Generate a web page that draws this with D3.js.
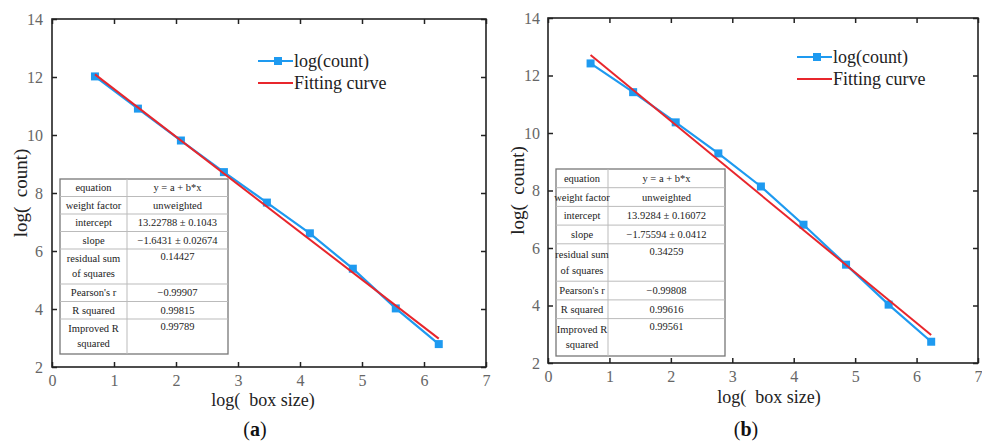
<!DOCTYPE html>
<html>
<head>
<meta charset="utf-8">
<script src="https://cdn.jsdelivr.net/npm/d3@7"></script>
<style>
  body { margin: 0; background: #fff; }
</style>
</head>
<body>
<div id="sandbox"></div>
<script>
const width = 982;
const height = 443;
const serif = "'Liberation Serif', 'Times New Roman', serif";

// log(box size) for box sizes 2,4,8,...,512
const boxLog = [0.693, 1.386, 2.079, 2.773, 3.466, 4.159, 4.852, 5.545, 6.238];

// log(count)
const countA = [12.02, 10.91, 9.81, 8.72, 7.67, 6.61, 5.39, 4.02, 2.79];
const countB = [12.42, 11.42, 10.37, 9.29, 8.14, 6.81, 5.42, 4.03, 2.74];

// fit parameters (intercept a, slope b)
const fitA = [13.22788, -1.6431];
const fitB = [13.9284, -1.75594];

const xTicks = [0, 1, 2, 3, 4, 5, 6, 7];
const yTicks = [2, 4, 6, 8, 10, 12, 14];

// fit statistics table
const tableLabels = [
  ["equation"], ["weight factor"], ["intercept"], ["slope"],
  ["residual sum", "of squares"], ["Pearson's r"], ["R squared"], ["Improved R", "squared"]
];
const tableA = ["y = a + b*x", "unweighted", "13.22788 \u00b1 0.1043", "\u22121.6431 \u00b1 0.02674",
  "0.14427", "\u22120.99907", "0.99815", "0.99789"];
const tableB = ["y = a + b*x", "unweighted", "13.9284 \u00b1 0.16072", "\u22121.75594 \u00b1 0.0412",
  "0.34259", "\u22120.99808", "0.99616", "0.99561"];

const legendLabels = ["log(count)", "Fitting curve"];

const blue = "#1e9af0";
const red = "#e8262c";

const svg = d3.select("#sandbox")
    .append("svg")
    .attr("width", width)
    .attr("height", height)
    .style("font-family", serif);

function drawPanel(p) {
  const x = d3.scaleLinear().domain([0, 7]).range([p.left, p.right]);
  const y = d3.scaleLinear().domain([2, 14]).range([p.bottom, p.top]);
  const g = svg.append("g");

  // axes, ticks pointing inward on all four sides
  const styleAxis = sel => {
    sel.attr("font-family", null);
    sel.select(".domain").remove();
    sel.selectAll(".tick line").attr("stroke", "#222").attr("stroke-width", 1.5);
    sel.selectAll(".tick text").attr("fill", "#666").attr("font-size", 16)
      .style("font-family", serif);
  };
  const fmt = d3.format("d");
  g.append("g").attr("transform", `translate(0,${p.bottom})`)
    .call(d3.axisBottom(x).tickValues(xTicks).tickFormat(fmt).tickSizeInner(-5).tickSizeOuter(0).tickPadding(8))
    .call(styleAxis);
  g.append("g").attr("transform", `translate(0,${p.top})`)
    .call(d3.axisTop(x).tickValues(xTicks).tickSizeInner(-5).tickSizeOuter(0).tickFormat(""))
    .call(styleAxis);
  g.append("g").attr("transform", `translate(${p.left},0)`)
    .call(d3.axisLeft(y).tickValues(yTicks).tickFormat(fmt).tickSizeInner(-5).tickSizeOuter(0).tickPadding(p.yPad))
    .call(styleAxis);
  g.append("g").attr("transform", `translate(${p.right},0)`)
    .call(d3.axisRight(y).tickValues(yTicks).tickSizeInner(-5).tickSizeOuter(0).tickFormat(""))
    .call(styleAxis);

  // frame
  g.append("rect")
    .attr("x", p.left).attr("y", p.top)
    .attr("width", p.right - p.left).attr("height", p.bottom - p.top)
    .attr("fill", "none").attr("stroke", "#222").attr("stroke-width", 1.6);

  // axis titles
  g.append("text")
    .attr("x", p.xTitleX).attr("y", p.xTitleY)
    .attr("text-anchor", "middle").attr("font-size", 18).attr("fill", "#222")
    .style("white-space", "pre")
    .text("log(\u2002box size)");
  g.append("text")
    .attr("transform", `translate(${p.yTitleX},${(p.top + p.bottom) / 2}) rotate(-90)`)
    .attr("text-anchor", "middle").attr("font-size", 19).attr("fill", "#222")
    .style("white-space", "pre")
    .text("log(\u2002count)");

  // data line + markers
  const line = d3.line().x(d => x(d[0])).y(d => y(d[1]));
  const pts = boxLog.map((v, i) => [v, p.counts[i]]);
  g.append("path").datum(pts)
    .attr("d", line).attr("fill", "none")
    .attr("stroke", blue).attr("stroke-width", 2.2);
  g.selectAll(".pt").data(pts).enter().append("rect")
    .attr("x", d => x(d[0]) - 4).attr("y", d => y(d[1]) - 4)
    .attr("width", 8).attr("height", 8).attr("fill", blue);

  // fitted line
  const xs = d3.extent(boxLog);
  g.append("path").datum(xs.map(v => [v, p.fit[0] + p.fit[1] * v]))
    .attr("d", line).attr("fill", "none")
    .attr("stroke", red).attr("stroke-width", 2);

  // legend
  const lg = g.append("g").attr("transform", `translate(${p.legX},${p.legY})`);
  lg.append("line").attr("x1", 0).attr("x2", 35).attr("y1", 0).attr("y2", 0)
    .attr("stroke", blue).attr("stroke-width", 2);
  lg.append("rect").attr("x", 16).attr("y", -4).attr("width", 8).attr("height", 8).attr("fill", blue);
  lg.append("line").attr("x1", 0).attr("x2", 35).attr("y1", 22).attr("y2", 22)
    .attr("stroke", red).attr("stroke-width", 2);
  lg.selectAll(".lt").data(legendLabels).enter().append("text")
    .attr("x", 36).attr("y", (d, i) => i * 22).attr("dy", "0.32em")
    .attr("font-size", 18).attr("fill", "#222").text(d => d);

  // stats table
  const t = p.table;
  const units = tableLabels.map(l => l.length);
  const unitH = (t.bottom - t.top) / d3.sum(units);
  const tg = g.append("g").style("font-family", serif);
  tg.append("rect").attr("x", t.left).attr("y", t.top)
    .attr("width", t.right - t.left).attr("height", t.bottom - t.top)
    .attr("fill", "#fff").attr("stroke", "#777").attr("stroke-width", 1.3);
  tg.append("line").attr("x1", t.mid).attr("x2", t.mid).attr("y1", t.top).attr("y2", t.bottom)
    .attr("stroke", "#bbb");
  let yy = t.top;
  tableLabels.forEach((lab, i) => {
    const h = units[i] * unitH;
    if (i > 0) {
      tg.append("line").attr("x1", t.left).attr("x2", t.right).attr("y1", yy).attr("y2", yy)
        .attr("stroke", "#bbb");
    }
    const lc = (t.left + t.mid) / 2;
    lab.forEach((s, j) => {
      tg.append("text").attr("x", lc)
        .attr("y", yy + unitH / 2 + j * unitH * 0.85 + (lab.length > 1 ? unitH * 0.05 : 0))
        .attr("dy", "0.35em").attr("text-anchor", "middle")
        .attr("font-size", 10.5).attr("fill", "#222").text(s);
    });
    tg.append("text").attr("x", (t.mid + t.right) / 2)
      .attr("y", yy + (lab.length > 1 ? unitH * 0.42 : unitH / 2))
      .attr("dy", "0.35em").attr("text-anchor", "middle")
      .attr("font-size", 10.5).attr("fill", "#222").text(p.values[i]);
    yy += h;
  });

  // caption
  const cap = g.append("text").attr("x", p.capX).attr("y", 429).attr("dy", "0.35em")
    .attr("text-anchor", "middle").attr("font-size", 20).attr("fill", "#111");
  cap.append("tspan").text("(");
  cap.append("tspan").attr("font-weight", "bold").text(p.letter);
  cap.append("tspan").text(")");
}

drawPanel({
  left: 52, right: 486, top: 19, bottom: 367, yPad: 9,
  counts: countA, fit: fitA, values: tableA, letter: "a",
  xTitleX: 263, xTitleY: 406, yTitleX: 27,
  legX: 258, legY: 61, capX: 255,
  table: { left: 60, mid: 127, right: 228, top: 179, bottom: 354 }
});

drawPanel({
  left: 548, right: 978, top: 18, bottom: 363, yPad: 8,
  counts: countB, fit: fitB, values: tableB, letter: "b",
  xTitleX: 769, xTitleY: 403, yTitleX: 524,
  legX: 797, legY: 57, capX: 746,
  table: { left: 556, mid: 608, right: 725, top: 169, bottom: 356 }
});
</script>
</body>
</html>
